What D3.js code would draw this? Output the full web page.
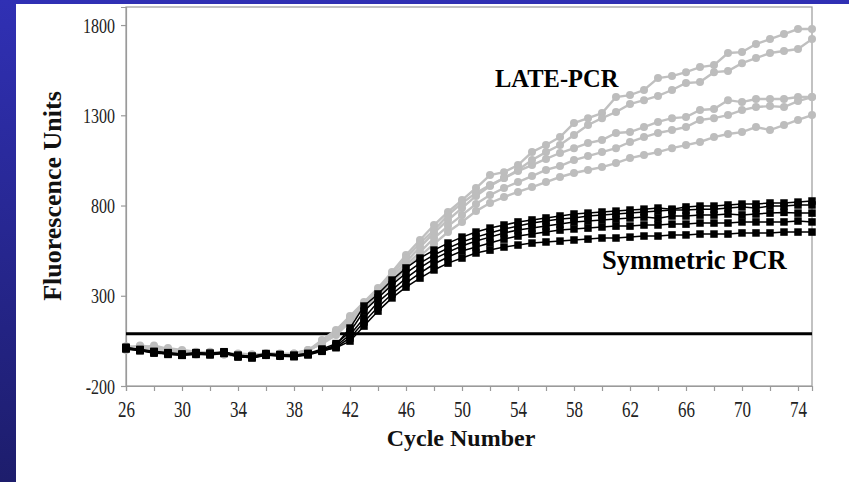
<!DOCTYPE html>
<html><head><meta charset="utf-8">
<script src="https://cdn.jsdelivr.net/npm/d3@7"></script>
<style>html,body{margin:0;padding:0;background:#fff;}svg{display:block;}</style>
</head><body>
<svg id="chart" width="849" height="482"></svg>
<script>
// ---- data ----
const cycles = [26,27,28,29,30,31,32,33,34,35,36,37,38,39,40,41,42,43,44,45,46,47,48,49,50,
  51,52,53,54,55,56,57,58,59,60,61,62,63,64,65,66,67,68,69,70,71,72,73,74,75];
const xTickValues = [26,28,30,32,34,36,38,40,42,44,46,48,50,52,54,56,58,60,62,64,66,68,70,72,74];
const xTickLabels = [26,30,34,38,42,46,50,54,58,62,66,70,74];
const yTickValues = [-200,300,800,1300,1800];
const threshold = 90;

// LATE-PCR (grey circles)
const late1 = [15,20,5,-5,-15,-20,-15,-20,-25,-35,-25,-30,-25,-5,55,110,188,265,343,432,526,609,692,764,830,897,969,985,1024,1096,1135,1179,1257,1284,1312,1401,1412,1440,1506,1517,1539,1567,1578,1645,1650,1695,1722,1750,1778,1778];
const late2 = [5,25,15,0,-10,-25,-20,-15,-30,-30,-20,-25,-20,0,44,99,177,254,332,415,509,592,664,747,814,869,914,952,997,1052,1096,1135,1191,1246,1284,1318,1362,1384,1407,1440,1479,1484,1539,1545,1589,1617,1645,1656,1667,1722];
const late3 = [10,10,25,5,-5,-15,-25,-20,-20,-25,-30,-25,-30,-10,49,104,177,254,321,404,487,570,648,720,786,853,908,952,991,1024,1058,1091,1118,1146,1163,1202,1207,1235,1263,1284,1290,1329,1335,1384,1373,1390,1390,1390,1401,1401];
const late4 = [20,15,10,10,0,-10,-15,-25,-25,-30,-20,-20,-25,-5,38,94,166,243,304,387,470,542,620,686,747,808,858,897,930,963,997,1019,1052,1074,1096,1118,1152,1179,1202,1218,1235,1274,1284,1301,1329,1346,1351,1346,1379,1401];
const late5 = [0,5,15,0,-20,-15,-10,-25,-35,-25,-25,-35,-20,0,33,83,155,232,293,371,454,520,587,653,709,769,814,847,875,902,930,958,980,997,1013,1035,1063,1080,1096,1118,1135,1152,1179,1196,1207,1235,1218,1246,1274,1301];

// Symmetric PCR (black squares)
const sym1 = [10,-1,-12,-17,-28,-17,-23,-12,-34,-39,-23,-28,-34,-23,-1,27,121,243,310,387,454,509,553,592,625,653,675,692,709,720,731,742,753,758,764,769,775,780,786,780,792,797,797,803,808,808,814,814,819,825];
const sym2 = [5,-5,-15,-20,-25,-20,-20,-15,-30,-35,-25,-30,-30,-20,5,35,99,215,288,360,426,481,526,564,598,625,648,670,686,703,714,725,731,742,747,753,758,764,769,775,775,780,780,786,792,786,797,797,803,803];
const sym3 = [15,0,-10,-25,-30,-25,-25,-20,-35,-45,-30,-30,-35,-25,-5,22,83,177,265,332,398,454,504,542,576,603,625,648,664,675,686,697,709,714,720,725,731,736,730,742,742,747,747,753,748,753,758,762,758,758];
const sym4 = [8,-3,-18,-22,-30,-22,-28,-18,-40,-42,-28,-35,-38,-28,-8,15,66,155,238,310,371,426,476,515,548,570,592,614,631,642,653,664,670,675,681,686,686,692,692,697,697,703,703,703,709,709,709,709,714,709];
const sym5 = [12,3,-8,-15,-22,-15,-18,-10,-30,-35,-20,-25,-30,-20,-3,12,49,132,215,288,348,398,443,481,509,537,553,570,581,592,598,603,609,614,620,620,625,631,631,637,637,642,642,642,648,648,648,653,653,653];

const lateSeries = [late1, late2, late3, late4, late5];
const symSeries = [sym1, sym2, sym3, sym4, sym5];

// ---- drawing ----
const svg = d3.select("#chart");
const W = 849, H = 482;
const defs = svg.append("defs");
const grad = defs.append("linearGradient").attr("id","bg").attr("x1",0).attr("y1",0).attr("x2",0).attr("y2",1);
grad.append("stop").attr("offset","0%").attr("stop-color","#3030b4");
grad.append("stop").attr("offset","100%").attr("stop-color","#1d1d6c");
svg.append("rect").attr("width",W).attr("height",H).attr("fill","url(#bg)");
svg.append("rect").attr("x",16).attr("y",4).attr("width",W-16).attr("height",H-4).attr("fill","#ffffff");

const x = d3.scaleLinear().domain([26,75]).range([126,812]);
const y = d3.scaleLinear().domain([-200,1900]).range([386,7]);

// frame
svg.append("rect").attr("x",x(26)).attr("y",y(1900)).attr("width",x(75)-x(26)).attr("height",y(-200)-y(1900))
  .attr("fill","none").attr("stroke","#9a9a9a").attr("stroke-width",1.2);

const serif = "'Liberation Serif','Times New Roman',serif";

// y axis
const yAxis = svg.append("g").attr("transform",`translate(${x(26)},0)`)
  .call(d3.axisLeft(y).tickValues(yTickValues).tickSize(5).tickFormat(d => String(d)));
yAxis.select(".domain").attr("stroke","#9a9a9a").attr("stroke-width",1.2);
yAxis.selectAll(".tick line").attr("stroke","#9a9a9a").attr("stroke-width",1.2);
yAxis.selectAll(".tick text").attr("font-family",serif).attr("font-size",16).attr("fill","#222")
  .attr("x",-11).attr("dy",null).attr("y",5.4).attr("transform","scale(1,1.32)");

// x axis
const xAxis = svg.append("g").attr("transform",`translate(0,${y(-200)})`)
  .call(d3.axisBottom(x).tickValues(xTickValues).tickSize(5)
    .tickFormat(d => xTickLabels.includes(d) ? String(d) : ""));
xAxis.select(".domain").attr("stroke","#9a9a9a").attr("stroke-width",1.2);
xAxis.selectAll(".tick line").attr("stroke","#9a9a9a").attr("stroke-width",1.2);
xAxis.selectAll(".tick text").attr("font-family",serif).attr("font-size",17).attr("fill","#222")
  .attr("dy",null).attr("y",23.3).attr("transform","scale(1,1.35)");

// threshold line
svg.append("line").attr("x1",x(26)).attr("x2",x(75)).attr("y1",y(threshold)).attr("y2",y(threshold))
  .attr("stroke","#000").attr("stroke-width",3);

const line = d3.line().x((d,i)=>x(cycles[i])).y(d=>y(d));

// grey LATE-PCR series
const gLate = svg.append("g");
lateSeries.forEach(s => {
  gLate.append("path").attr("d",line(s)).attr("fill","none").attr("stroke","#c0c0c0").attr("stroke-width",2.4);
});
lateSeries.forEach(s => {
  gLate.selectAll(null).data(s).enter().append("circle")
    .attr("cx",(d,i)=>x(cycles[i])).attr("cy",d=>y(d)).attr("r",4).attr("fill","#bdbdbd");
});

// black symmetric series
const gSym = svg.append("g");
symSeries.forEach(s => {
  gSym.append("path").attr("d",line(s)).attr("fill","none").attr("stroke","#000").attr("stroke-width",1.5);
});
symSeries.forEach(s => {
  gSym.selectAll(null).data(s).enter().append("rect")
    .attr("x",(d,i)=>x(cycles[i])-3.75).attr("y",d=>y(d)-3.75).attr("width",7.5).attr("height",7.5).attr("fill","#000");
});

// labels
svg.append("text").attr("x",495).attr("y",87).attr("font-family",serif).attr("font-weight","bold")
  .attr("font-size",24.5).attr("fill","#000").text("LATE-PCR");
svg.append("text").attr("x",602).attr("y",269).attr("font-family",serif).attr("font-weight","bold")
  .attr("font-size",26.5).attr("fill","#000").text("Symmetric PCR");

// axis titles
svg.append("text").attr("transform","translate(61,196) rotate(-90)").attr("text-anchor","middle")
  .attr("font-family",serif).attr("font-weight","bold").attr("font-size",26).attr("fill","#111")
  .text("Fluorescence Units");
svg.append("text").attr("x",461).attr("y",446).attr("text-anchor","middle")
  .attr("font-family",serif).attr("font-weight","bold").attr("font-size",24).attr("fill","#111")
  .text("Cycle Number");
</script>
</body></html>
